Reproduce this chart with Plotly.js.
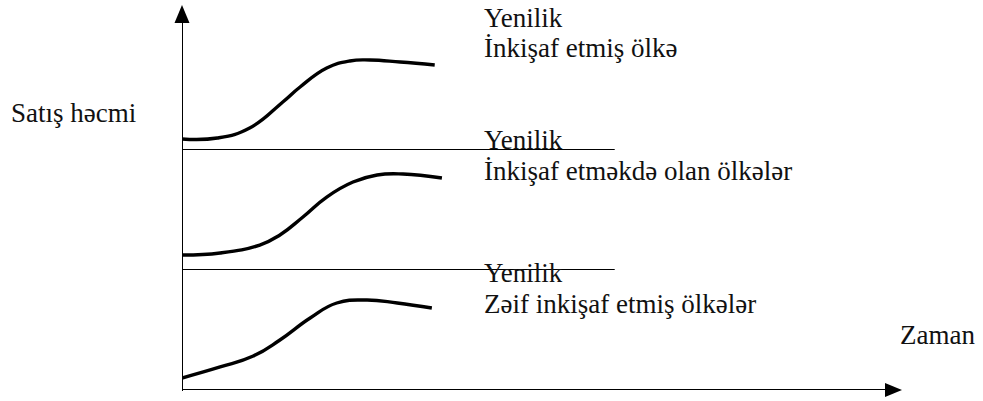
<!DOCTYPE html>
<html>
<head>
<meta charset="utf-8">
<script src="https://cdn.plot.ly/plotly-3.0.1.min.js"></script>
<style>
  html, body { margin: 0; padding: 0; background: #ffffff; font-family: "Liberation Serif", serif; }
  /* all chart labels are set in a Times-style serif face */
  #chart text.annotation-text,
  #chart .annotation text {
    font-family: "Liberation Serif", "Times New Roman", serif !important;
  }
</style>
</head>
<body>
<div id="chart"></div>
<script>
// Product life cycle of an innovation in three groups of countries.
// Time axis in relative units (0..100), sales volume in relative units.

const timeDeveloped = [0, 4.9, 9.4, 14.0, 16.4, 20.1, 23.3, 26.1, 30.3, 35.1];
const salesDeveloped = [0.92, 1.0, 1.83, 4.0, 5.25, 6.83, 7.42, 7.5, 7.33, 7.08];

const timeDeveloping = [0, 5.3, 10.8, 13.6, 16.8, 20.1, 23.75, 27.1, 30.7, 36.1];
const salesDeveloping = [1.25, 1.42, 2.08, 2.92, 4.42, 6.08, 7.33, 7.92, 8.0, 7.67];

const timeLeastDeveloped = [0, 5.3, 9.9, 13.6, 17.8, 21.5, 25.7, 29.9, 34.7];
const salesLeastDeveloped = [1.0, 1.92, 2.83, 4.17, 6.0, 7.25, 7.5, 7.25, 6.83];

const seriesTitles = ["Yenilik", "Yenilik", "Yenilik"];
const groupNames = ["İnkişaf etmiş ölkə", "İnkişaf etməkdə olan ölkələr", "Zəif inkişaf etmiş ölkələr"];
const yAxisLabel = "Satış həcmi";
const xAxisLabel = "Zaman";

const W = 983, H = 401;
const toPaperX = v => v / W;
const toPaperY = v => 1 - v / H;
const SERIF = "Liberation Serif";
const FONT_SIZE = 27;

const curveLine = { color: "#000000", width: 3.4, shape: "spline", smoothing: 1.3 };

const traces = [
  { x: timeDeveloped, y: salesDeveloped, xaxis: "x", yaxis: "y3",
    mode: "lines", line: curveLine, hoverinfo: "skip" },
  { x: timeDeveloping, y: salesDeveloping, xaxis: "x", yaxis: "y2",
    mode: "lines", line: curveLine, hoverinfo: "skip" },
  { x: timeLeastDeveloped, y: salesLeastDeveloped, xaxis: "x", yaxis: "y",
    mode: "lines", line: curveLine, hoverinfo: "skip" }
];

const axisStroke = { color: "#000000", width: 2 };
const shapes = [
  // vertical axis with arrow
  { type: "line", xref: "x", yref: "paper", x0: 0, x1: 0, y0: toPaperY(391), y1: toPaperY(14), line: axisStroke },
  { type: "path", xref: "paper", yref: "paper",
    path: `M ${toPaperX(182)} ${toPaperY(5)} L ${toPaperX(174.5)} ${toPaperY(23)} L ${toPaperX(189.5)} ${toPaperY(23)} Z`,
    fillcolor: "#000000", line: { width: 0 } },
  // time axis with arrow
  { type: "line", xref: "x", yref: "y", x0: 0, x1: 98, y0: 0, y1: 0, line: axisStroke },
  { type: "path", xref: "paper", yref: "paper",
    path: `M ${toPaperX(902)} ${toPaperY(390)} L ${toPaperX(885)} ${toPaperY(383)} L ${toPaperX(885)} ${toPaperY(397)} Z`,
    fillcolor: "#000000", line: { width: 0 } },
  // panel separators
  { type: "line", xref: "x", yref: "y3", x0: 0, x1: 60.1, y0: 0, y1: 0, line: axisStroke },
  { type: "line", xref: "x", yref: "y2", x0: 0, x1: 60.1, y0: 0, y1: 0, line: axisStroke }
];

function textNote(text, xPix, yPix) {
  return { text: text, xref: "paper", yref: "paper", x: toPaperX(xPix), y: toPaperY(yPix),
    xanchor: "left", yanchor: "middle", showarrow: false, borderpad: 0,
    font: { family: SERIF, size: FONT_SIZE, color: "#111111" } };
}

const annotations = [
  textNote(seriesTitles[0], 483, 18),
  textNote(groupNames[0], 483, 48),
  textNote(seriesTitles[1], 483, 140),
  textNote(groupNames[1], 483, 171),
  textNote(seriesTitles[2], 483, 273),
  textNote(groupNames[2], 483, 304),
  textNote(yAxisLabel, 10, 113),
  textNote(xAxisLabel, 899, 335)
];

const layout = {
  width: W, height: H,
  margin: { l: 0, r: 0, t: 0, b: 0 },
  showlegend: false,
  font: { family: SERIF },
  xaxis: { visible: false, domain: [toPaperX(182), toPaperX(902)], range: [0, 100] },
  yaxis: { visible: false, domain: [toPaperY(390), toPaperY(270)], range: [0, 10] },
  yaxis2: { visible: false, domain: [toPaperY(270), toPaperY(150)], range: [0, 10] },
  yaxis3: { visible: false, domain: [toPaperY(150), toPaperY(6)], range: [0, 12] },
  shapes: shapes,
  annotations: annotations
};

// resolve the serif face once through a canvas so the SVG labels pick it up
function warmFont() {
  const ctx = document.createElement("canvas").getContext("2d");
  ctx.font = `${FONT_SIZE}px "${SERIF}"`;
  [...seriesTitles, ...groupNames, yAxisLabel, xAxisLabel].forEach(t => ctx.measureText(t));
}

function draw() {
  Plotly.newPlot("chart", traces, layout, { staticPlot: true });
}

warmFont();
if (document.fonts && document.fonts.load) {
  document.fonts.load(`${FONT_SIZE}px "${SERIF}"`, "Yenilik İnkişaf ə ş").then(draw, draw);
} else {
  draw();
}
</script>
</body>
</html>
